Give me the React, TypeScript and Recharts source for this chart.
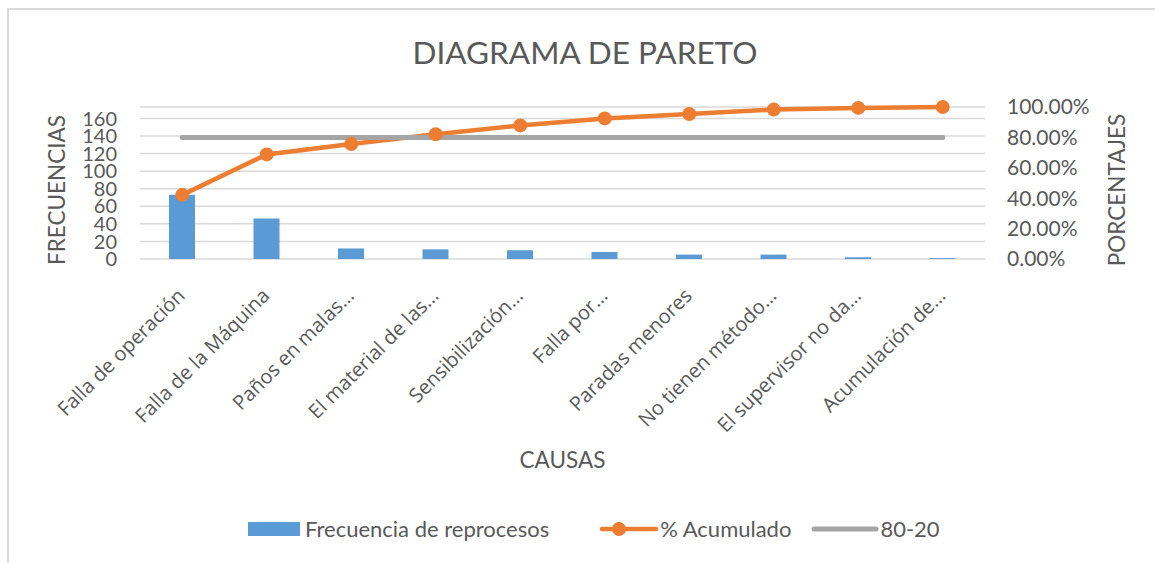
import { Bar, CartesianGrid, ComposedChart, Legend, Line, XAxis, YAxis } from "recharts";

const causes = [
    "Falla de operación",
    "Falla de la Máquina",
    "Paños en malas…",
    "El material de las…",
    "Sensibilización…",
    "Falla por…",
    "Paradas menores",
    "No tienen método…",
    "El supervisor no da…",
    "Acumulación de…",
];
const frecuencias = [73, 46, 12, 11, 10, 8, 5, 5, 2, 1];
const acumulado = [0.422, 0.688, 0.757, 0.821, 0.879, 0.925, 0.954, 0.983, 0.994, 1.0];
const ochentaVeinte = [0.8, 0.8, 0.8, 0.8, 0.8, 0.8, 0.8, 0.8, 0.8, 0.8];
const leftTicks = [0, 20, 40, 60, 80, 100, 120, 140, 160];
const rightTicks = [0, 0.2, 0.4, 0.6, 0.8, 1];

const data = causes.map((causa, i) => ({
    causa,
    frecuencia: frecuencias[i],
    acumulado: acumulado[i],
    ref80: ochentaVeinte[i],
}));

const textColor = "#595959";
const font = "Lato, 'Open Sans', sans-serif";

const renderCauseTick = (props: any) => {
    const { x, y, payload } = props;
    const tx = x + 4;
    const ty = y + 36;
    return (
        <text
            key={payload.value}
            x={tx}
            y={ty}
            textAnchor="end"
            transform={`rotate(-45, ${tx}, ${ty})`}
            fill={textColor}
            fontSize={20}
            fontFamily="'Open Sans', sans-serif"
        >
            {payload.value}
        </text>
    );
};

const legendItems = [
    { label: "Frecuencia de reprocesos", color: "#5B9BD5", kind: "bar", gapAfter: 50 },
    { label: "% Acumulado", color: "#ED7D31", kind: "dot", gapAfter: 20 },
    { label: "80-20", color: "#A5A5A5", kind: "line", gapAfter: 0 },
];

const renderLegend = () => (
    <div style={{ display: "flex", alignItems: "center", fontFamily: font, fontSize: 22, color: textColor }}>
        {legendItems.map((item) => (
            <div key={item.label} style={{ display: "flex", alignItems: "center", marginRight: item.gapAfter }}>
                {item.kind === "bar" && (
                    <svg width={57} height={16}>
                        <rect x={0} y={1} width={52} height={14} fill={item.color} />
                    </svg>
                )}
                {item.kind === "dot" && (
                    <svg width={61} height={16}>
                        <line x1={3} y1={8} x2={57} y2={8} stroke={item.color} strokeWidth={4.5} strokeLinecap="round" />
                        <circle cx={20} cy={8} r={7} fill={item.color} />
                    </svg>
                )}
                {item.kind === "line" && (
                    <svg width={69} height={16}>
                        <line x1={3} y1={8} x2={65} y2={8} stroke={item.color} strokeWidth={5} strokeLinecap="round" />
                    </svg>
                )}
                <span>{item.label}</span>
            </div>
        ))}
    </div>
);

const ParetoChart = () => {
    return (
        <div style={{ position: "absolute", left: 0, top: 0, width: 1155, height: 563, background: "#fff" }}>
            <div style={{ position: "absolute", left: 7, top: 8, width: 1160, height: 570, borderTop: "2px solid #d9d9d9", borderLeft: "2px solid #d9d9d9" }} />
            <div style={{ position: "absolute", left: 0, top: 33, width: 1170, textAlign: "center", fontFamily: font, fontSize: 31.5, color: textColor }}>
                DIAGRAMA DE PARETO
            </div>
            <ComposedChart width={1155} height={563} data={data} margin={{ top: 107, right: 0, bottom: 0, left: 0 }}>
                <CartesianGrid yAxisId="left" vertical={false} stroke="#d9d9d9" strokeWidth={1.5} />
                <XAxis
                    dataKey="causa"
                    interval={0}
                    height={304}
                    axisLine={false}
                    tickLine={false}
                    tickSize={0}
                    tick={renderCauseTick}
                    label={{ value: "CAUSAS", position: "center", dy: 49, fill: textColor, fontSize: 22.5, fontFamily: font }}
                />
                <YAxis
                    yAxisId="left"
                    orientation="left"
                    width={140}
                    domain={[0, 173]}
                    ticks={leftTicks}
                    interval={0}
                    axisLine={false}
                    tickLine={false}
                    tickSize={0}
                    tickMargin={23}
                    tick={{ fill: textColor, fontSize: 20, fontFamily: font }}
                    label={{ value: "FRECUENCIAS", angle: -90, position: "center", dx: -13, dy: 7, fill: textColor, fontSize: 22.5, fontFamily: font }}
                />
                <YAxis
                    yAxisId="right"
                    orientation="right"
                    width={170}
                    domain={[0, 1]}
                    ticks={rightTicks}
                    interval={0}
                    axisLine={false}
                    tickLine={false}
                    tickSize={0}
                    tickMargin={22}
                    tickFormatter={(v: number) => `${(v * 100).toFixed(2)}%`}
                    tick={{ fill: textColor, fontSize: 21, fontFamily: font }}
                    label={{ value: "PORCENTAJES", angle: -90, position: "center", dx: 47, dy: 7, fill: textColor, fontSize: 22.5, fontFamily: font }}
                />
                <Bar yAxisId="left" dataKey="frecuencia" name="Frecuencia de reprocesos" fill="#5B9BD5" barSize={26} isAnimationActive={false} />
                <Line
                    yAxisId="right"
                    dataKey="acumulado"
                    name="% Acumulado"
                    stroke="#ED7D31"
                    strokeWidth={4.5}
                    dot={{ r: 7, fill: "#ED7D31", stroke: "none" }}
                    activeDot={false}
                    isAnimationActive={false}
                />
                <Line
                    yAxisId="right"
                    dataKey="ref80"
                    name="80-20"
                    stroke="#A5A5A5"
                    strokeWidth={5}
                    strokeLinecap="round"
                    dot={false}
                    activeDot={false}
                    isAnimationActive={false}
                />
                <Legend
                    layout="horizontal"
                    align="center"
                    verticalAlign="middle"
                    content={renderLegend}
                    wrapperStyle={{ top: 515, left: 248, width: 760 }}
                />
            </ComposedChart>
        </div>
    );
};

export default function App() {
    return <ParetoChart />;
}
